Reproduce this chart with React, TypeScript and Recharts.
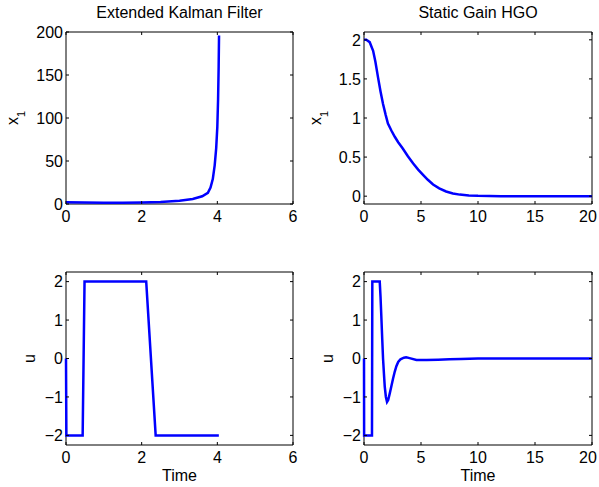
import { LineChart, Line, XAxis, YAxis, ReferenceArea } from 'recharts'

// Extended Kalman Filter, state x1 (blows up just after t = 4)
const ekfTimeX = [0, 0.5, 1, 1.5, 2, 2.5, 3, 3.35, 3.6, 3.75, 3.82, 3.88, 3.93, 3.97, 4.0, 4.02, 4.035, 4.045]
const ekfX1 = [2, 1.6, 1.4, 1.4, 1.7, 2.4, 3.9, 5.8, 9, 13, 19, 29, 45, 65, 90, 122, 160, 196]

// Extended Kalman Filter, control u
const ekfTimeU = [0, 0.01, 0.44, 0.49, 2.12, 2.37, 4.04]
const ekfU = [0, -2, -2, 2, 2, -2, -2]

// Static gain HGO, state x1
const hgoTimeX = [0, 0.2, 0.5, 0.8, 1.0, 1.23, 1.45, 1.67, 1.9, 2.1, 2.4, 2.7, 3.0, 3.4, 3.85, 4.3, 4.75, 5.2, 5.6, 6.06, 6.6, 7.2, 7.8, 8.4, 9.2, 10, 12, 15, 20]
const hgoX1 = [2, 2, 1.97, 1.86, 1.72, 1.52, 1.34, 1.18, 1.04, 0.93, 0.84, 0.76, 0.69, 0.61, 0.51, 0.42, 0.34, 0.27, 0.21, 0.15, 0.1, 0.06, 0.035, 0.02, 0.01, 0.004, 0, 0, 0]

// Static gain HGO, control u
const hgoTimeU = [0, 0.01, 0.7, 0.73, 1.38, 1.45, 1.52, 1.6, 1.67, 1.75, 1.82, 1.92, 2.02, 2.12, 2.25, 2.4, 2.55, 2.7, 2.84, 3.0, 3.2, 3.5, 3.7, 4.0, 4.6, 5.5, 6.5, 7.5, 8.5, 10, 20]
const hgoU = [0, -2, -2, 2, 2, 1.6, 1.1, 0.5, 0.0, -0.4, -0.73, -1.0, -1.13, -1.08, -0.92, -0.72, -0.52, -0.34, -0.2, -0.09, -0.02, 0.02, 0.03, 0.01, -0.04, -0.04, -0.03, -0.02, -0.01, 0, 0]

const ticksX6 = [0, 2, 4, 6]
const ticksX20 = [0, 5, 10, 15, 20]
const ticksY200 = [0, 50, 100, 150, 200]
const ticksY2 = [0, 0.5, 1, 1.5, 2]
const ticksU = [-2, -1, 0, 1, 2]

const FONT = '"Liberation Sans", Arial, Helvetica, sans-serif'
const TICK_LEN = 3
const X_AXIS_H = 30
const Y_AXIS_W = 40

const zip = (t: number[], v: number[]) => t.map((tt, i) => ({ t: tt, v: v[i] }))

const fmt = (v: number) => (v < 0 ? '\u2212' + Math.abs(v) : String(v))

type Margin = { top: number; right: number; bottom: number; left: number }

interface PanelProps {
  left: number
  top: number
  width: number
  height: number
  margin: Margin
  data: { t: number; v: number }[]
  xDomain: [number, number]
  xTicks: number[]
  yDomain: [number, number]
  yTicks: number[]
  title?: string
  yLabel: 'x1' | 'u'
  yLabelGap: number
  xLabel?: string
  lastTickShift?: number
}

function Panel(p: PanelProps) {
  const plotLeft = p.margin.left + Y_AXIS_W
  const plotRight = p.width - p.margin.right
  const plotTop = p.margin.top
  const plotBottom = p.height - p.margin.bottom - X_AXIS_H
  const plotW = plotRight - plotLeft
  const plotH = plotBottom - plotTop

  const xTick = (props: any) => {
    const { x, y, payload } = props
    // the last label sits at the figure's edge, so nudge it in
    const shift = payload.value === p.xDomain[1] ? p.lastTickShift ?? 0 : 0
    return (
      <g>
        <line x1={x} y1={y} x2={x} y2={y - TICK_LEN} stroke="#000" />
        <line x1={x} y1={y - plotH} x2={x} y2={y - plotH + TICK_LEN} stroke="#000" />
        <text x={x + shift} y={y + 18} textAnchor="middle" fontSize={16} fontFamily={FONT} fill="#000">
          {fmt(payload.value)}
        </text>
      </g>
    )
  }

  const yTick = (props: any) => {
    const { x, y, payload } = props
    return (
      <g>
        <line x1={x} y1={y} x2={x + TICK_LEN} y2={y} stroke="#000" />
        <line x1={x + plotW} y1={y} x2={x + plotW - TICK_LEN} y2={y} stroke="#000" />
        <text x={x - 3} y={y} dy="0.36em" textAnchor="end" fontSize={16} fontFamily={FONT} fill="#000">
          {fmt(payload.value)}
        </text>
      </g>
    )
  }

  const cx = plotLeft - p.yLabelGap
  const cy = plotTop + plotH / 2
  const yLabelContent = () => (
    <text
      x={cx}
      y={cy}
      textAnchor="middle"
      transform={`rotate(-90 ${cx} ${cy})`}
      fontSize={16}
      fontFamily={FONT}
      fill="#000"
    >
      {p.yLabel === 'x1' ? (
        <>
          <tspan>x</tspan>
          <tspan dy={7} fontSize={11}>1</tspan>
        </>
      ) : (
        'u'
      )}
    </text>
  )

  const xLabelContent = () => (
    <text x={plotLeft + plotW / 2} y={plotBottom + 36} textAnchor="middle" fontSize={16} fontFamily={FONT} fill="#000">
      {p.xLabel}
    </text>
  )

  return (
    <div style={{ position: 'absolute', left: p.left, top: p.top }}>
      <LineChart width={p.width} height={p.height} data={p.data} margin={p.margin}>
        <XAxis
          dataKey="t"
          type="number"
          domain={p.xDomain}
          ticks={p.xTicks}
          interval={0}
          height={X_AXIS_H}
          tickSize={0}
          tickMargin={0}
          axisLine={false}
          tickLine={false}
          tick={xTick}
          label={p.xLabel ? { content: xLabelContent } : undefined}
        />
        <YAxis
          type="number"
          domain={p.yDomain}
          ticks={p.yTicks}
          interval={0}
          width={Y_AXIS_W}
          tickSize={0}
          tickMargin={0}
          axisLine={false}
          tickLine={false}
          tick={yTick}
          label={{ content: yLabelContent }}
        />
        <ReferenceArea
          x1={p.xDomain[0]}
          x2={p.xDomain[1]}
          y1={p.yDomain[0]}
          y2={p.yDomain[1]}
          fill="none"
          fillOpacity={0}
          stroke="#000"
          strokeWidth={1}
          label={
            p.title
              ? { value: p.title, position: 'top', offset: 14, fontSize: 16, fill: '#000', fontFamily: FONT }
              : undefined
          }
        />
        <Line
          type="linear"
          dataKey="v"
          stroke="#0000ff"
          strokeWidth={2.5}
          dot={false}
          activeDot={false}
          isAnimationActive={false}
        />
      </LineChart>
    </div>
  )
}

export default function App() {
  return (
    <div
      style={{
        position: 'absolute',
        left: 0,
        top: 0,
        width: 599,
        height: 487,
        background: '#fff',
        overflow: 'hidden',
      }}
    >
      <Panel
        left={0}
        top={0}
        width={300}
        height={240}
        margin={{ top: 32, right: 7, bottom: 6, left: 26 }}
        data={zip(ekfTimeX, ekfX1)}
        xDomain={[0, 6]}
        xTicks={ticksX6}
        yDomain={[0, 200]}
        yTicks={ticksY200}
        title="Extended Kalman Filter"
        yLabel="x1"
        yLabelGap={48}
      />
      <Panel
        left={300}
        top={0}
        width={310}
        height={240}
        margin={{ top: 32, right: 18, bottom: 6, left: 24 }}
        data={zip(hgoTimeX, hgoX1)}
        xDomain={[0, 20]}
        xTicks={ticksX20}
        yDomain={[-0.1, 2.1]}
        yTicks={ticksY2}
        title="Static Gain HGO"
        yLabel="x1"
        yLabelGap={43}
        lastTickShift={-4}
      />
      <Panel
        left={0}
        top={240}
        width={300}
        height={247}
        margin={{ top: 32, right: 7, bottom: 12, left: 26 }}
        data={zip(ekfTimeU, ekfU)}
        xDomain={[0, 6]}
        xTicks={ticksX6}
        yDomain={[-2.25, 2.25]}
        yTicks={ticksU}
        yLabel="u"
        yLabelGap={31}
        xLabel="Time"
      />
      <Panel
        left={300}
        top={240}
        width={310}
        height={247}
        margin={{ top: 32, right: 18, bottom: 12, left: 24 }}
        data={zip(hgoTimeU, hgoU)}
        xDomain={[0, 20]}
        xTicks={ticksX20}
        yDomain={[-2.25, 2.25]}
        yTicks={ticksU}
        yLabel="u"
        yLabelGap={31}
        xLabel="Time"
        lastTickShift={-4}
      />
    </div>
  )
}
